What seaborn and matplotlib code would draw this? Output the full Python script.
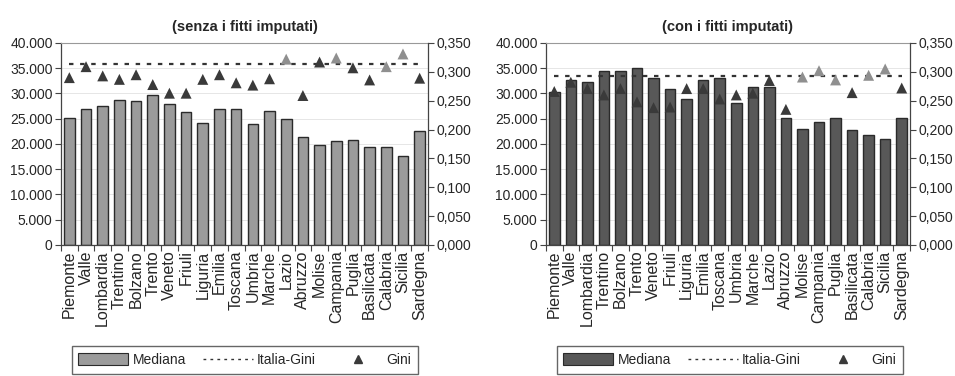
import numpy as np
import matplotlib
matplotlib.use("Agg")
import matplotlib.pyplot as plt
from matplotlib.ticker import FuncFormatter, FixedLocator
from matplotlib.patches import Patch
from matplotlib.lines import Line2D
import seaborn as sns

regioni = ["Piemonte", "Valle", "Lombardia", "Trentino", "Bolzano", "Trento",
           "Veneto", "Friuli", "Liguria", "Emilia", "Toscana", "Umbria",
           "Marche", "Lazio", "Abruzzo", "Molise", "Campania", "Puglia",
           "Basilicata", "Calabria", "Sicilia", "Sardegna"]

# senza i fitti imputati
mediana_senza = [25200, 27000, 27500, 28700, 28500, 29700, 27900, 26300, 24200, 27000, 27000,
                 23900, 26500, 25000, 21400, 19800, 20500, 20700, 19500, 19500, 17600, 22600]
gini_senza = [0.290, 0.309, 0.293, 0.287, 0.295, 0.278, 0.263, 0.263, 0.287, 0.295, 0.281,
              0.277, 0.288, 0.322, 0.259, 0.317, 0.324, 0.307, 0.286, 0.309, 0.331, 0.289]
italia_gini_senza = 0.313
chiari_senza = ["Lazio", "Campania", "Calabria", "Sicilia"]

# con i fitti imputati
mediana_con = [30200, 32700, 32300, 34400, 34400, 35100, 33000, 30900, 29000, 32700, 33000,
               28200, 31200, 31200, 25200, 23000, 24300, 25200, 22800, 21800, 20900, 25200]
gini_con = [0.266, 0.282, 0.271, 0.260, 0.271, 0.248, 0.238, 0.239, 0.271, 0.271, 0.253,
            0.260, 0.263, 0.285, 0.235, 0.291, 0.302, 0.286, 0.264, 0.294, 0.305, 0.272]
italia_gini_con = 0.292
chiari_con = ["Molise", "Campania", "Puglia", "Calabria", "Sicilia"]

sns.set_theme(style="white")
plt.rcParams["font.family"] = ["Liberation Sans", "DejaVu Sans"]

fig = plt.figure(figsize=(9.55, 3.76), dpi=100)

fmt_sx = FuncFormatter(lambda v, p: f"{int(v):,}".replace(",", "."))
fmt_dx = FuncFormatter(lambda v, p: f"{v:.3f}".replace(".", ","))


def pannello(rect, titolo, mediana, gini, italia, chiari, colore_barre, leg_x):
    ax = fig.add_axes(rect)
    sns.barplot(x=regioni, y=mediana, ax=ax, color=colore_barre, edgecolor="#2a2a2a",
                linewidth=1.0, width=0.64, saturation=1, zorder=2)
    n = len(regioni)
    ax.set_xlim(-0.5, n - 0.5)
    ax.set_ylim(0, 40000)
    ax.set_yticks(np.arange(0, 40001, 5000))
    ax.yaxis.set_major_formatter(fmt_sx)
    ax.grid(axis="y", color="#e2e2e2", linewidth=0.6, zorder=0)
    ax.set_axisbelow(True)
    ax.tick_params(axis="y", direction="out", length=4, width=0.8, color="#444",
                   labelsize=10, pad=2, left=True)
    ax.tick_params(axis="x", which="major", length=0, labelsize=11.5, pad=4)
    ax.xaxis.set_minor_locator(FixedLocator(np.arange(-0.5, n, 1.0)))
    ax.tick_params(axis="x", which="minor", direction="out", length=4, width=0.8,
                   color="#444", bottom=True)
    ax.set_xticks(range(n))
    ax.set_xticklabels(regioni, rotation=90, va="top", ha="center")
    ax.set_title(titolo, fontsize=10.5, fontweight="bold", pad=9)
    for s in ["left", "bottom"]:
        ax.spines[s].set_color("#444")
        ax.spines[s].set_linewidth(0.9)
    ax.spines["top"].set_color("#999")
    ax.spines["top"].set_linewidth(0.8)
    ax.spines["right"].set_visible(False)

    ax2 = ax.twinx()
    ax2.set_ylim(0, 0.35)
    ax2.set_yticks(np.arange(0, 0.351, 0.05))
    ax2.yaxis.set_major_formatter(fmt_dx)
    ax2.tick_params(axis="y", direction="out", length=4, width=0.8, color="#444",
                    labelsize=10, pad=2, right=True)
    ax2.spines["right"].set_color("#444")
    ax2.spines["right"].set_linewidth(0.9)
    for s in ["top", "left", "bottom"]:
        ax2.spines[s].set_visible(False)
    ax2.grid(False)
    ax2.hlines(italia, 0, n - 1, colors="#333", linestyles=(0, (2, 3)), linewidth=1.6, zorder=3)
    colori = ["#8f8f8f" if r in chiari else "#3a3a3a" for r in regioni]
    ax2.scatter(range(n), gini, marker="^", s=62, c=colori, linewidths=0, zorder=4)

    handles = [Patch(facecolor=colore_barre, edgecolor="#2a2a2a", linewidth=0.8),
               Line2D([], [], color="#333", linestyle=(0, (2, 3)), linewidth=1.0),
               Line2D([], [], color="#3a3a3a", marker="^", linestyle="none", markersize=6)]
    fig.legend(handles, ["Mediana", "Italia-Gini", "Gini"], loc="upper center",
               bbox_to_anchor=(leg_x, 1 - 346 / 376), ncol=3, fontsize=10,
               frameon=True, fancybox=False, edgecolor="#666", framealpha=1,
               handlelength=3.6, handleheight=0.9, columnspacing=1.2, handletextpad=0.3,
               borderpad=0.5, borderaxespad=0)


pannello([61 / 955, 1 - 245 / 376, 367 / 955, 202 / 376], "(senza i fitti imputati)",
         mediana_senza, gini_senza, italia_gini_senza, chiari_senza, "#9b9b9b", 245 / 955)
pannello([546 / 955, 1 - 245 / 376, 364 / 955, 202 / 376], "(con i fitti imputati)",
         mediana_con, gini_con, italia_gini_con, chiari_con, "#585858", 730 / 955)

fig.savefig("out.png", dpi=100, facecolor="white")
